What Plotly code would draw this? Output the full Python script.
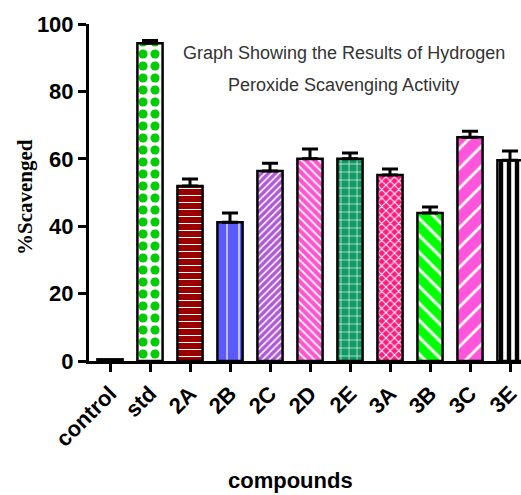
import plotly.graph_objects as go

categories = ["control", "std", "2A", "2B", "2C", "2D", "2E", "3A", "3B", "3C", "3E"]
values = [0.5, 94.3, 51.9, 41.2, 56.4, 60.0, 60.0, 55.2, 43.9, 66.4, 59.6]
errors = [0.0, 0.8, 2.1, 2.7, 2.3, 2.9, 1.7, 1.8, 1.8, 1.8, 2.7]
bg_colors = ["#ffffff", "#ffffff", "#990000", "#5a5aff", "#b05ad8", "#ff55d0",
             "#119966", "#ff1a80", "#00ff00", "#ff55dd", "#ffffff"]
fg_colors = ["#ffffff", "#00cc00", "#ffffff", "#ffffff", "#ffffff", "#ffffff",
             "#ffffff", "#ffffff", "#ffffff", "#ffffff", "#000000"]
shapes = ["", ".", "-", "|", "/", "\\", "+", "x", "\\", "/", "|"]
sizes = [8, 12, 7, 12, 5, 6, 8, 6, 12, 14, 8]
solidity = [0.3, 0.45, 0.15, 0.1, 0.3, 0.3, 0.15, 0.3, 0.25, 0.2, 0.55]

fig = go.Figure()
for i, cat in enumerate(categories):
    fig.add_trace(go.Bar(
        x=[cat], y=[values[i]],
        width=0.63,
        marker=dict(
            color=bg_colors[i],
            line=dict(color="black", width=2.5),
            pattern=dict(shape=shapes[i], fgcolor=fg_colors[i], bgcolor=bg_colors[i],
                         size=sizes[i], solidity=solidity[i],
                         fillmode="overlay", fgopacity=1),
        ),
        error_y=dict(type="data", array=[errors[i]], arrayminus=[0],
                     symmetric=False, color="black", thickness=3, width=8,
                     visible=errors[i] > 0),
        showlegend=False,
    ))

fig.update_layout(
    width=521, height=495,
    margin=dict(l=89, r=0, t=24, b=134),
    plot_bgcolor="white", paper_bgcolor="white",
    barmode="overlay",
    xaxis=dict(
        categoryorder="array", categoryarray=categories,
        range=[-0.525, 10.275],
        showline=True, linecolor="black", linewidth=3,
        ticks="outside", ticklen=8, tickwidth=3, tickcolor="black",
        tickangle=-45,
        tickfont=dict(family="Liberation Sans", size=22, color="black", weight="bold"),
        showgrid=False, zeroline=False,
    ),
    yaxis=dict(
        range=[0, 100],
        tickvals=[0, 20, 40, 60, 80, 100],
        showline=True, linecolor="black", linewidth=3,
        ticks="outside", ticklen=8, tickwidth=3, tickcolor="black",
        tickfont=dict(family="Liberation Sans", size=22, color="black", weight="bold"),
        showgrid=False, zeroline=False,
    ),
    annotations=[
        dict(text="Graph Showing the Results of Hydrogen", xref="paper", yref="paper",
             x=(343.5 - 89) / 432, y=1 - (41 - 24) / 337, showarrow=False,
             font=dict(family="Liberation Sans", size=18, color="#333333")),
        dict(text="Peroxide Scavenging Activity", xref="paper", yref="paper",
             x=(343.5 - 89) / 432, y=1 - (73 - 24) / 337, showarrow=False,
             font=dict(family="Liberation Sans", size=18, color="#333333")),
        dict(text="compounds", xref="paper", yref="paper",
             x=(290 - 89) / 432, y=-(480 - 361) / 337, showarrow=False,
             yanchor="middle",
             font=dict(family="Liberation Sans", size=22, color="black", weight="bold")),
        dict(text="%Scavenged", xref="paper", yref="paper",
             x=(25 - 89) / 432, y=1 - (197 - 24) / 337, showarrow=False,
             textangle=-90, xanchor="center", yanchor="middle",
             font=dict(family="Liberation Serif", size=21, color="black", weight="bold")),
    ],
)

fig.write_html("out.html")
